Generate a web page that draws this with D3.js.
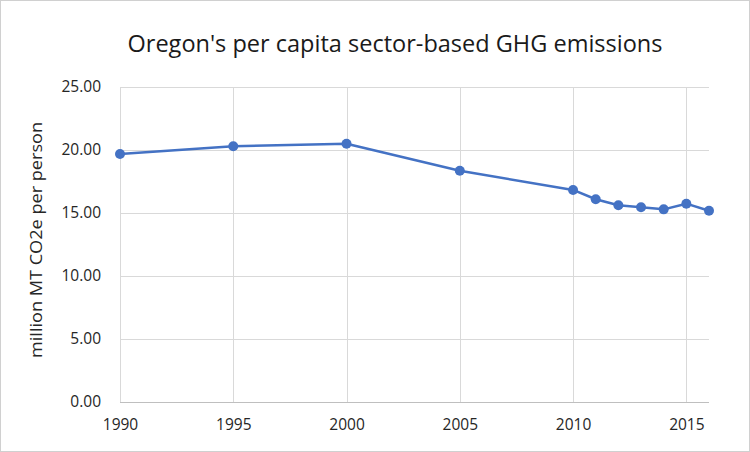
<!DOCTYPE html>
<html>
<head>
<meta charset="utf-8">
<script src="https://cdn.jsdelivr.net/npm/d3@7"></script>
<style>
  body { margin: 0; background: #fff; }
  svg { display: block; }
</style>
</head>
<body>
<div id="chart"></div>
<script>
// data
var years = [1990, 1995, 2000, 2005, 2010, 2011, 2012, 2013, 2014, 2015, 2016];
var perCapita = [19.68, 20.30, 20.50, 18.35, 16.83, 16.09, 15.61, 15.45, 15.29, 15.74, 15.18];
var yTicks = [0, 5, 10, 15, 20, 25];
var xTicks = [1990, 1995, 2000, 2005, 2010, 2015];

var width = 750, height = 452;
var margin = {top: 87, right: 41, bottom: 50, left: 120};

var svg = d3.select("#chart").append("svg")
  .attr("width", width)
  .attr("height", height);

// outer frame
svg.append("rect")
  .attr("x", 0.5).attr("y", 0.5)
  .attr("width", width - 1).attr("height", height - 1)
  .attr("fill", "#fff")
  .attr("stroke", "#d0d0d0");

var font = "'Open Sans', 'Liberation Sans', sans-serif";

svg.append("text")
  .attr("x", 395).attr("y", 52)
  .attr("text-anchor", "middle")
  .attr("font-family", font)
  .attr("font-size", 23)
  .attr("fill", "#1a1a1a")
  .attr("textLength", 535)
  .attr("lengthAdjust", "spacingAndGlyphs")
  .text("Oregon's per capita sector-based GHG emissions");

var x = d3.scaleLinear()
  .domain([1990, 2016])
  .range([margin.left, width - margin.right]);

var y = d3.scaleLinear()
  .domain([0, 25])
  .range([height - margin.bottom, margin.top]);

// horizontal grid
svg.append("g")
  .selectAll("line")
  .data(yTicks.slice(1))
  .join("line")
  .attr("x1", x(1990)).attr("x2", x(2016))
  .attr("y1", function(d) { return Math.round(y(d)) + 0.5; })
  .attr("y2", function(d) { return Math.round(y(d)) + 0.5; })
  .attr("stroke", "#d9d9d9");

// vertical grid
svg.append("g")
  .selectAll("line")
  .data(xTicks)
  .join("line")
  .attr("x1", function(d) { return Math.round(x(d)) + 0.5; })
  .attr("x2", function(d) { return Math.round(x(d)) + 0.5; })
  .attr("y1", y(25)).attr("y2", y(0))
  .attr("stroke", "#d9d9d9");

// bottom axis
var xAxis = svg.append("g")
  .attr("transform", "translate(0," + (Math.round(y(0)) + 0.5) + ")")
  .call(d3.axisBottom(x).tickValues(xTicks).tickFormat(d3.format("d")).tickSize(0).tickPadding(16));
xAxis.select(".domain").attr("stroke", "#bfbfbf").attr("d", "M" + x(1990) + ",0H" + x(2016));
xAxis.selectAll("text")
  .attr("font-family", font)
  .attr("font-size", 15.5)
  .attr("fill", "#262626");

// left axis (labels only)
var yAxis = svg.append("g")
  .attr("transform", "translate(" + x(1990) + ",0)")
  .call(d3.axisLeft(y).tickValues(yTicks).tickFormat(d3.format(".2f")).tickSize(0).tickPadding(19));
yAxis.select(".domain").remove();
yAxis.selectAll("text")
  .attr("font-family", font)
  .attr("font-size", 15.5)
  .attr("fill", "#262626");

svg.append("text")
  .attr("transform", "translate(42," + 240 + ") rotate(-90)")
  .attr("text-anchor", "middle")
  .attr("font-family", font)
  .attr("font-size", 16)
  .attr("fill", "#262626")
  .attr("textLength", 236)
  .attr("lengthAdjust", "spacingAndGlyphs")
  .text("million MT CO2e per person");

var data = years.map(function(yr, i) { return {year: yr, value: perCapita[i]}; });

var line = d3.line()
  .x(function(d) { return x(d.year); })
  .y(function(d) { return y(d.value); });

svg.append("path")
  .datum(data)
  .attr("fill", "none")
  .attr("stroke", "#4472c4")
  .attr("stroke-width", 2.5)
  .attr("stroke-linejoin", "round")
  .attr("d", line);

svg.append("g")
  .selectAll("circle")
  .data(data)
  .join("circle")
  .attr("cx", function(d) { return x(d.year); })
  .attr("cy", function(d) { return y(d.value); })
  .attr("r", 5)
  .attr("fill", "#4472c4");
</script>
</body>
</html>
